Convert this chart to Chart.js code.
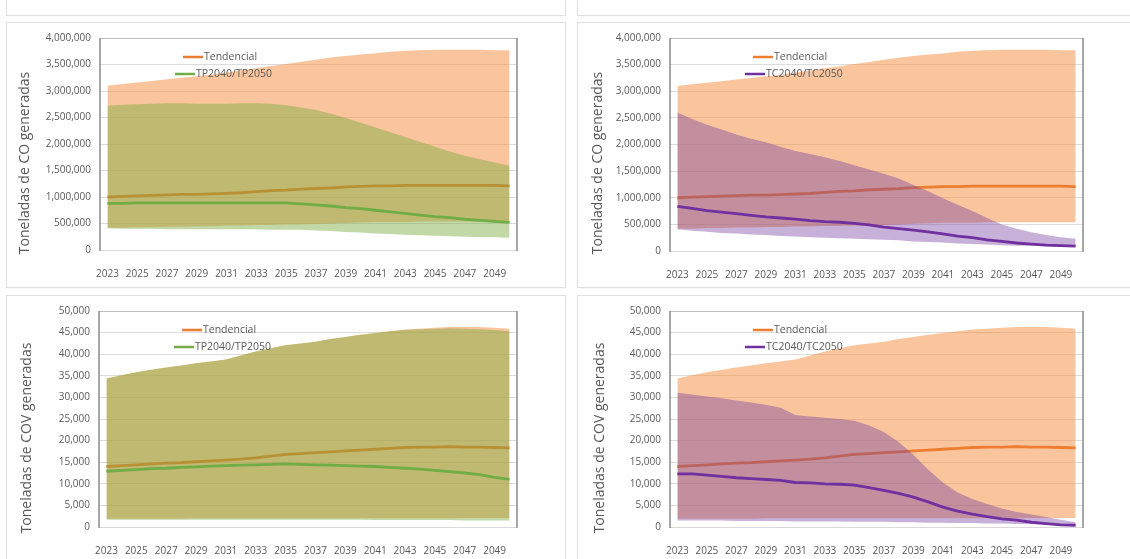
<!DOCTYPE html>
<html lang="es">
<head>
<meta charset="utf-8">
<title>Toneladas de CO y COV generadas</title>
<script src="https://cdn.jsdelivr.net/npm/chart.js@4.4.1/dist/chart.umd.min.js"></script>
<style>
  html, body { margin: 0; padding: 0; background: #fff; }
  body { width: 1130px; height: 559px; position: relative; overflow: hidden; }
  .panel { position: absolute; background: #fff; box-shadow: 0 0 0 1px #e0e0e0, 0 1px 3px rgba(0,0,0,0.06); }
  .panel canvas { position: absolute; left: 0; top: 0; }
</style>
</head>
<body>
<div class="panel" style="left:7px;top:-20px;width:558px;height:35px"></div>
<div class="panel" style="left:578px;top:-20px;width:560px;height:35px"></div>
<div class="panel" style="left:7px;top:23px;width:558px;height:264px"><canvas id="coTp" width="558" height="264"></canvas></div>
<div class="panel" style="left:578px;top:23px;width:560px;height:264px"><canvas id="coTc" width="560" height="264"></canvas></div>
<div class="panel" style="left:7px;top:296px;width:558px;height:270px"><canvas id="covTp" width="558" height="270"></canvas></div>
<div class="panel" style="left:578px;top:296px;width:560px;height:270px"><canvas id="covTc" width="560" height="270"></canvas></div>

<script>
// Años de la proyección
const years = [2023, 2024, 2025, 2026, 2027, 2028, 2029, 2030, 2031, 2032, 2033, 2034, 2035, 2036,
               2037, 2038, 2039, 2040, 2041, 2042, 2043, 2044, 2045, 2046, 2047, 2048, 2049, 2050];

// CO (toneladas): escenario tendencial, rango mínimo / máximo y valor central
const coTendLow  = [420000, 420000, 430000, 430000, 440000, 440000, 450000, 450000, 460000, 460000, 470000, 470000, 480000, 480000,
                    490000, 500000, 510000, 520000, 530000, 530000, 530000, 540000, 540000, 540000, 540000, 540000, 540000, 540000];
const coTendHigh = [3100000, 3130000, 3160000, 3190000, 3220000, 3250000, 3280000, 3310000, 3350000, 3390000, 3430000, 3470000, 3510000, 3550000,
                    3590000, 3630000, 3660000, 3690000, 3710000, 3740000, 3760000, 3770000, 3780000, 3780000, 3780000, 3780000, 3770000, 3770000];
const coTend     = [1000000, 1010000, 1020000, 1030000, 1040000, 1050000, 1050000, 1060000, 1070000, 1080000, 1100000, 1120000, 1130000, 1150000,
                    1160000, 1170000, 1190000, 1200000, 1210000, 1210000, 1220000, 1220000, 1220000, 1220000, 1220000, 1220000, 1220000, 1210000];

// CO: TP2040/TP2050
const coTpLow  = [410000, 400000, 400000, 400000, 390000, 390000, 390000, 390000, 390000, 390000, 390000, 380000, 380000, 380000,
                  370000, 360000, 340000, 330000, 310000, 300000, 290000, 280000, 270000, 260000, 250000, 240000, 240000, 230000];
const coTpHigh = [2720000, 2740000, 2750000, 2760000, 2770000, 2770000, 2760000, 2760000, 2760000, 2770000, 2770000, 2760000, 2730000, 2690000,
                  2640000, 2570000, 2490000, 2400000, 2310000, 2220000, 2130000, 2040000, 1950000, 1860000, 1780000, 1710000, 1650000, 1590000];
const coTp     = [880000, 880000, 890000, 890000, 890000, 890000, 890000, 890000, 890000, 890000, 890000, 890000, 890000, 870000,
                  850000, 830000, 800000, 780000, 750000, 720000, 690000, 660000, 630000, 610000, 580000, 560000, 540000, 520000];

// CO: TC2040/TC2050
const coTcLow  = [410000, 380000, 360000, 340000, 330000, 310000, 300000, 280000, 270000, 260000, 250000, 240000, 230000, 220000,
                  210000, 200000, 180000, 170000, 160000, 140000, 130000, 120000, 110000, 100000, 100000, 90000, 80000, 80000];
const coTcHigh = [2600000, 2480000, 2370000, 2280000, 2190000, 2110000, 2040000, 1960000, 1880000, 1820000, 1760000, 1690000, 1610000, 1530000,
                  1450000, 1360000, 1240000, 1120000, 990000, 870000, 750000, 620000, 500000, 420000, 350000, 300000, 260000, 230000];
const coTc     = [840000, 800000, 760000, 730000, 700000, 670000, 640000, 620000, 600000, 570000, 550000, 540000, 520000, 490000,
                  450000, 420000, 390000, 360000, 320000, 280000, 250000, 210000, 180000, 150000, 130000, 110000, 100000, 90000];

// COV (toneladas): tendencial
const covTendLow  = [1900, 1900, 1900, 1900, 1900, 1900, 2000, 2000, 2000, 2000, 2000, 2000, 2000, 2000,
                     2000, 2000, 2000, 2000, 2000, 2000, 2000, 2000, 2000, 2000, 2100, 2100, 2100, 2100];
const covTendHigh = [34400, 35100, 35800, 36400, 36900, 37400, 37900, 38300, 38800, 39700, 40600, 41400, 42100, 42500,
                     42900, 43500, 44000, 44500, 44900, 45300, 45700, 45900, 46100, 46300, 46300, 46300, 46100, 45900];
const covTend     = [14000, 14200, 14400, 14600, 14800, 14900, 15100, 15300, 15500, 15700, 16000, 16400, 16800, 17000,
                     17200, 17400, 17600, 17800, 18000, 18200, 18400, 18500, 18500, 18600, 18500, 18500, 18400, 18300];

// COV: TP2040/TP2050
const covTpLow  = [1700, 1700, 1700, 1700, 1700, 1700, 1700, 1700, 1700, 1700, 1700, 1700, 1700, 1700,
                   1700, 1700, 1700, 1700, 1600, 1600, 1600, 1600, 1600, 1600, 1500, 1500, 1500, 1500];
const covTpHigh = [34400, 35100, 35800, 36400, 36900, 37400, 37900, 38300, 38800, 39700, 40600, 41400, 42100, 42500,
                   42900, 43500, 44000, 44500, 44900, 45300, 45600, 45800, 45900, 46000, 45900, 45800, 45600, 45300];
const covTp     = [12900, 13100, 13300, 13500, 13600, 13800, 13900, 14100, 14200, 14300, 14400, 14500, 14600, 14500,
                   14400, 14300, 14200, 14100, 14000, 13800, 13600, 13400, 13100, 12800, 12500, 12100, 11500, 11000];

// COV: TC2040/TC2050
const covTcLow  = [1500, 1500, 1500, 1500, 1400, 1400, 1400, 1400, 1300, 1300, 1300, 1300, 1200, 1200,
                   1200, 1100, 1100, 1000, 1000, 900, 900, 800, 800, 700, 700, 600, 600, 500];
const covTcHigh = [31100, 30700, 30200, 29800, 29300, 28800, 28300, 27600, 25900, 25600, 25300, 25000, 24600, 23500,
                   22000, 19700, 16700, 13300, 10300, 8000, 6500, 5300, 4300, 3500, 2900, 2300, 1700, 1100];
const covTc     = [12300, 12300, 12000, 11700, 11400, 11200, 11000, 10800, 10300, 10200, 10000, 9900, 9700, 9100,
                   8500, 7800, 6900, 5800, 4600, 3700, 3000, 2400, 1900, 1600, 1100, 800, 500, 400];

const labelTend = 'Tendencial';
const labelTp = 'TP2040/TP2050';
const labelTc = 'TC2040/TC2050';

// Colores
const orange = '#ED7D31';
const orangeBand = 'rgba(245, 140, 60, 0.5)';
const green = '#70AD47';
const greenBand = 'rgba(120, 170, 60, 0.45)';
const purple = '#7030A0';
const purpleBand = 'rgba(115, 60, 160, 0.4)';
const textColor = '#595959';

Chart.defaults.font.family = "'Open Sans', 'DejaVu Sans', sans-serif";
Chart.defaults.color = textColor;

// Título vertical del eje Y en posición fija
const sideTitlePlugin = {
    id: 'sideTitle',
    afterDraw(chart, args, opts) {
        const ctx = chart.ctx;
        ctx.save();
        ctx.translate(opts.x, opts.y);
        ctx.rotate(-Math.PI / 2);
        ctx.font = `${opts.size}px 'Open Sans', sans-serif`;
        ctx.fillStyle = '#595959';
        ctx.textAlign = 'center';
        ctx.textBaseline = 'middle';
        ctx.fillText(opts.text, 0, 0);
        ctx.restore();
    }
};

// Marco del área de trazado
const framePlugin = {
    id: 'plotFrame',
    afterDatasetsDraw(chart) {
        const { ctx, chartArea: a } = chart;
        ctx.save();
        ctx.lineWidth = 1;
        ctx.strokeStyle = '#bdbdbd';
        ctx.beginPath();
        ctx.moveTo(a.left, a.top + 0.5);
        ctx.lineTo(a.right, a.top + 0.5);
        ctx.stroke();
        ctx.strokeStyle = '#d9d9d9';
        ctx.beginPath();
        ctx.moveTo(a.left, a.bottom + 0.5);
        ctx.lineTo(a.right, a.bottom + 0.5);
        ctx.stroke();
        ctx.lineWidth = 1.5;
        ctx.strokeStyle = '#8a8a8a';
        ctx.beginPath();
        ctx.moveTo(a.left, a.top);
        ctx.lineTo(a.left, a.bottom + 1);
        ctx.moveTo(a.right, a.top);
        ctx.lineTo(a.right, a.bottom + 1);
        ctx.stroke();
        ctx.restore();
    }
};

// Leyenda dentro del área de trazado (solo las líneas centrales)
const innerLegendPlugin = {
    id: 'innerLegend',
    afterDraw(chart, args, opts) {
        const { ctx, chartArea: a } = chart;
        ctx.save();
        ctx.font = "10.5px 'Open Sans', sans-serif";
        ctx.textBaseline = 'middle';
        opts.items.forEach(item => {
            const x = a.left + item.dx;
            const y = a.top + item.dy;
            ctx.strokeStyle = item.color;
            ctx.lineWidth = 2.5;
            ctx.beginPath();
            ctx.moveTo(x, y);
            ctx.lineTo(x + 20, y);
            ctx.stroke();
            ctx.fillStyle = textColor;
            ctx.fillText(item.text, x + 21, y + 0.5);
        });
        ctx.restore();
    }
};

function bandLow(data, order) {
    return { data, borderWidth: 0, pointRadius: 0, fill: false, order };
}
function bandHigh(data, color, order) {
    return { data, borderWidth: 0, pointRadius: 0, backgroundColor: color, fill: '-1', order };
}
function centerLine(label, data, color, order) {
    return { label, data, borderColor: color, borderWidth: 2.8, pointRadius: 0, tension: 0, fill: false, order };
}

function buildChart(cfg) {
    const el = document.getElementById(cfg.id);
    const box = cfg.panel;
    const plot = cfg.plot;
    const yWidth = plot.left - box.left;
    const xHeight = box.height - (plot.bottom - box.top);

    return new Chart(el, {
        type: 'line',
        data: {
            labels: years,
            datasets: [
                bandLow(cfg.tendLow, 10),
                bandHigh(cfg.tendHigh, orangeBand, 9),
                centerLine(labelTend, cfg.tend, orange, 8),
                bandLow(cfg.scenLow, 7),
                bandHigh(cfg.scenHigh, cfg.scenBand, 6),
                centerLine(cfg.scenLabel, cfg.scen, cfg.scenColor, 5)
            ]
        },
        options: {
            responsive: false,
            animation: false,
            devicePixelRatio: 1,
            layout: {
                padding: {
                    left: 0,
                    top: plot.top - box.top,
                    right: box.width - (plot.right - box.left),
                    bottom: 0
                }
            },
            plugins: {
                legend: { display: false },
                tooltip: { enabled: false },
                sideTitle: {
                    text: cfg.title,
                    x: cfg.titlePos.x - box.left,
                    y: cfg.titlePos.y - box.top,
                    size: 14
                },
                innerLegend: {
                    items: [
                        { text: labelTend, color: orange, dx: 83, dy: 19 },
                        { text: cfg.scenLabel, color: cfg.scenColor, dx: 75, dy: 36 }
                    ]
                }
            },
            scales: {
                x: {
                    type: 'category',
                    offset: true,
                    grid: { display: false },
                    border: { display: false },
                    afterFit(scale) { scale.height = xHeight; },
                    ticks: {
                        autoSkip: false,
                        maxRotation: 0,
                        minRotation: 0,
                        padding: 10,
                        color: textColor,
                        font: { size: 10 },
                        callback(value, index) {
                            return index % 2 === 0 ? this.getLabelForValue(value) : '';
                        }
                    }
                },
                y: {
                    min: 0,
                    max: cfg.yMax,
                    grid: { color: '#dcdcdc', drawTicks: false },
                    border: { display: false },
                    afterFit(scale) { scale.width = yWidth; },
                    ticks: {
                        stepSize: cfg.yStep,
                        padding: 9,
                        color: textColor,
                        font: { size: 10 },
                        callback: v => v.toLocaleString('en-US')
                    }
                }
            }
        },
        plugins: [sideTitlePlugin, framePlugin, innerLegendPlugin]
    });
}

buildChart({
    id: 'coTp',
    panel: { left: 7, top: 23, width: 558, height: 264 },
    plot: { left: 100, right: 517, top: 33, bottom: 250 },
    titlePos: { x: 25, y: 163 },
    title: 'Toneladas de CO generadas',
    yMax: 4000000, yStep: 500000,
    tendLow: coTendLow, tendHigh: coTendHigh, tend: coTend,
    scenLabel: labelTp, scenColor: green, scenBand: greenBand,
    scenLow: coTpLow, scenHigh: coTpHigh, scen: coTp
});

buildChart({
    id: 'coTc',
    panel: { left: 578, top: 23, width: 560, height: 264 },
    plot: { left: 670, right: 1083, top: 33, bottom: 251 },
    titlePos: { x: 598, y: 163 },
    title: 'Toneladas de CO generadas',
    yMax: 4000000, yStep: 500000,
    tendLow: coTendLow, tendHigh: coTendHigh, tend: coTend,
    scenLabel: labelTc, scenColor: purple, scenBand: purpleBand,
    scenLow: coTcLow, scenHigh: coTcHigh, scen: coTc
});

buildChart({
    id: 'covTp',
    panel: { left: 7, top: 296, width: 558, height: 270 },
    plot: { left: 99, right: 517, top: 305, bottom: 527 },
    titlePos: { x: 27, y: 438 },
    title: 'Toneladas de COV generadas',
    yMax: 50000, yStep: 5000,
    tendLow: covTendLow, tendHigh: covTendHigh, tend: covTend,
    scenLabel: labelTp, scenColor: green, scenBand: greenBand,
    scenLow: covTpLow, scenHigh: covTpHigh, scen: covTp
});

buildChart({
    id: 'covTc',
    panel: { left: 578, top: 296, width: 560, height: 270 },
    plot: { left: 670, right: 1083, top: 306, bottom: 527 },
    titlePos: { x: 600, y: 438 },
    title: 'Toneladas de COV generadas',
    yMax: 50000, yStep: 5000,
    tendLow: covTendLow, tendHigh: covTendHigh, tend: covTend,
    scenLabel: labelTc, scenColor: purple, scenBand: purpleBand,
    scenLow: covTcLow, scenHigh: covTcHigh, scen: covTc
});
</script>
</body>
</html>
